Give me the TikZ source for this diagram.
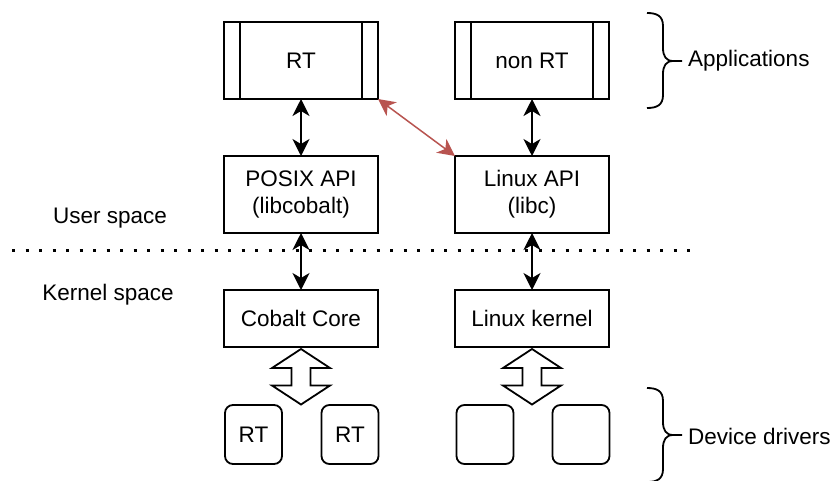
\documentclass[tikz,border=0pt]{standalone}
\usepackage{fontspec}
\setmainfont{Liberation Sans}
\usetikzlibrary{arrows.meta,calc}
\definecolor{redline}{HTML}{B85450}
\begin{document}
\begin{tikzpicture}[x=1pt,y=-1pt,
  every node/.style={font=\fontsize{22.5}{27}\selectfont},
  box/.style={draw, line width=1.8pt, minimum width=154pt, minimum height=77pt, inner sep=0pt, outer sep=0pt, align=center},
  kbox/.style={box, minimum height=57pt},
  dev/.style={draw, line width=1.8pt, rounded corners=8pt, minimum width=57pt, minimum height=59pt, inner sep=0pt, outer sep=0pt},
  link/.style={line width=1.5pt, {Stealth[length=17pt,width=17pt,inset=5pt]}-{Stealth[length=17pt,width=17pt,inset=5pt]}},
  blockarrow/.style={draw, line width=1.8pt, line join=miter},
  brace/.style={line width=1.8pt},
  lbl/.style={inner sep=0pt, anchor=base}
]
\useasboundingbox (0,0) rectangle (835,480);

% application boxes
\node[box] (rt) at (301,60.5) {RT};
\node[box] (nrt) at (532,60.5) {non RT};
\foreach \n in {rt,nrt}{
  \draw[line width=1.8pt] ([xshift=16pt]\n.north west) -- ([xshift=16pt]\n.south west);
  \draw[line width=1.8pt] ([xshift=-16pt]\n.north east) -- ([xshift=-16pt]\n.south east);
}

% API boxes
\node[box] (posix) at (301,194.5) {POSIX API\\(libcobalt)};
\node[box] (lapi) at (532,194.5) {Linux API\\(libc)};

% kernel boxes
\node[kbox] (cc) at (301,318.5) {Cobalt Core};
\node[kbox] (lk) at (532,318.5) {Linux kernel};

% device boxes
\node[dev] (d1) at (253.5,434.5) {RT};
\node[dev] (d2) at (350,434.5) {RT};
\node[dev] (d3) at (485,434.5) {};
\node[dev] (d4) at (581,434.5) {};

% separator
\draw[line width=3pt, dash pattern=on 3pt off 10.5pt] (12,250) -- (690,250);

% labels
\node[lbl] (us) at (110,223) {User space};
\node[lbl] (ks) at (108,300) {Kernel space};

% connectors
\draw[link] (rt.south) -- (posix.north);
\draw[link] (nrt.south) -- (lapi.north);
\draw[link] (posix.south) -- (cc.north);
\draw[link] (lapi.south) -- (lk.north);
\draw[link, redline] (rt.south east) -- (lapi.north west);

% block double arrows
\foreach \n in {cc,lk}{
  \draw[blockarrow] ($(\n.south)+(0,2)$) -- ++(29,19) -- ++(-19.5,0) -- ++(0,17.5) -- ++(19.5,0) -- ++(-29,19) -- ++(-29,-19) -- ++(19.5,0) -- ++(0,-17.5) -- ++(-19.5,0) -- cycle;
}

% braces
\draw[brace] (647,13) .. controls (657,13) and (663,16) .. (663,26) -- (663,48) .. controls (663,56) and (666,61) .. (673,61) -- (682,61);
\draw[brace] (647,108) .. controls (657,108) and (663,105) .. (663,95) -- (663,74) .. controls (663,66) and (666,61) .. (673,61);
\node[inner sep=0pt, anchor=west] (apps) at (688,61) {Applications};

\draw[brace] (647,388) .. controls (657,388) and (663,391) .. (663,401) -- (663,422) .. controls (663,430) and (666,435) .. (673,435) -- (682,435);
\draw[brace] (647,482) .. controls (657,482) and (663,479) .. (663,469) -- (663,448) .. controls (663,440) and (666,435) .. (673,435);
\node[inner sep=0pt, anchor=west] (devs) at (688,436) {Device drivers};
\end{tikzpicture}
\end{document}
